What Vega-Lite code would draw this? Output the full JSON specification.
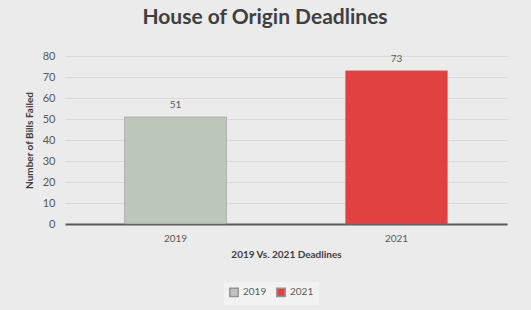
{
  "$schema": "https://vega.github.io/schema/vega-lite/v6.json",
  "autosize": {"type": "none"},
  "width": 442,
  "height": 168,
  "padding": {"left": 65, "top": 56, "right": 24, "bottom": 86},
  "background": "#ebebeb",
  "title": {
    "text": "House of Origin Deadlines",
    "font": "Lato",
    "fontSize": 21,
    "fontWeight": "bold",
    "color": "#404040",
    "anchor": "middle",
    "dx": -21,
    "offset": 22
  },
  "data": {
    "values": [
      {"year": "2019", "bills": 51},
      {"year": "2021", "bills": 73}
    ]
  },
  "encoding": {
    "x": {
      "field": "year",
      "type": "nominal",
      "title": "2019 Vs. 2021 Deadlines",
      "scale": {"paddingInner": 0.5, "paddingOuter": 0.25},
      "axis": {
        "labelAngle": 0,
        "labelFont": "Lato",
        "labelFontSize": 10,
        "labelColor": "#595959",
        "labelPadding": 9,
        "ticks": false,
        "domainColor": "#595959",
        "domainWidth": 2,
        "titleFont": "Lato",
        "titleFontSize": 10,
        "titleFontWeight": "bold",
        "titleColor": "#404040",
        "titlePadding": 6
      }
    },
    "y": {
      "field": "bills",
      "type": "quantitative",
      "title": "Number of Bills Failed",
      "scale": {"domain": [0, 80]},
      "axis": {
        "values": [0, 10, 20, 30, 40, 50, 60, 70, 80],
        "labelFont": "Lato",
        "labelFontSize": 11,
        "labelColor": "#595959",
        "labelPadding": 10,
        "ticks": false,
        "domain": false,
        "gridColor": "#dadada",
        "titleFont": "Lato",
        "titleFontSize": 10,
        "titleFontWeight": "bold",
        "titleColor": "#404040",
        "titlePadding": 8
      }
    },
    "color": {
      "field": "year",
      "type": "nominal",
      "title": null,
      "scale": {"domain": ["2019", "2021"], "range": ["#b8c2b4", "#e02f2f"]},
      "legend": {
        "orient": "none",
        "direction": "horizontal",
        "legendX": 159,
        "legendY": 226,
        "symbolType": "square",
        "symbolSize": 70,
        "labelFont": "Lato",
        "labelFontSize": 10,
        "labelColor": "#595959",
        "fillColor": "#f2f2f2",
        "padding": 5,
        "columnPadding": 6
      }
    }
  },
  "layer": [
    {
      "mark": {"type": "bar", "size": 102, "opacity": 0.9, "stroke": "#8a8a8a", "strokeWidth": 0.5}
    },
    {
      "mark": {"type": "text", "dy": -12, "font": "Lato", "fontSize": 10, "color": "#595959"},
      "encoding": {
        "text": {"field": "bills", "type": "quantitative"},
        "color": {"value": "#595959"}
      }
    }
  ],
  "config": {"view": {"stroke": null}}
}
